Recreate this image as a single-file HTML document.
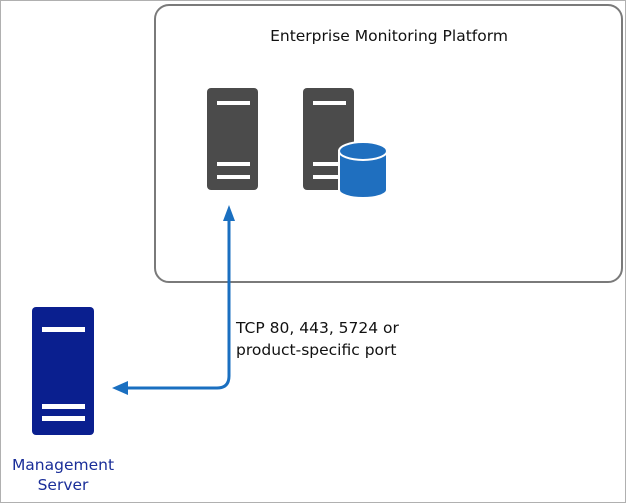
<!DOCTYPE html>
<html><head><style>
body{margin:0;background:#fff;}
svg{display:block;}
text{font-family:"Segoe UI","DejaVu Sans","Liberation Sans",sans-serif;font-size:15.5px;}
</style></head><body>
<svg width="626" height="503" viewBox="0 0 626 503">
<rect x="0.5" y="0.5" width="625" height="502" fill="#fff" stroke="#b0b0b0" stroke-width="1"/>
<rect x="155" y="5" width="467" height="277" rx="14" fill="#fff" stroke="#7a7a7a" stroke-width="2"/>
<text x="389" y="41" text-anchor="middle" fill="#111">Enterprise Monitoring Platform</text>
<rect x="207" y="88" width="51" height="102" rx="4" fill="#4b4b4b"/>
<rect x="217" y="101" width="33" height="4" fill="#fff"/>
<rect x="217" y="162" width="33" height="4" fill="#fff"/>
<rect x="217" y="175" width="33" height="4" fill="#fff"/>
<rect x="303" y="88" width="51" height="102" rx="4" fill="#4b4b4b"/>
<rect x="313" y="101" width="33" height="4" fill="#fff"/>
<rect x="313" y="162" width="33" height="4" fill="#fff"/>
<rect x="313" y="175" width="33" height="4" fill="#fff"/>
<path d="M339 151 L339 190 A24 8 0 0 0 387 190 L387 151 Z" fill="#1f6fbf" stroke="#fff" stroke-width="2"/>
<ellipse cx="363" cy="151" rx="24" ry="9" fill="#1f6fbf" stroke="#fff" stroke-width="2"/>
<rect x="32" y="307" width="62" height="128" rx="4" fill="#0a1f8f"/>
<rect x="42" y="327" width="43" height="5" fill="#fff"/>
<rect x="42" y="404" width="43" height="5" fill="#fff"/>
<rect x="42" y="416" width="43" height="5" fill="#fff"/>
<text x="63" y="470" text-anchor="middle" fill="#1a2e99">Management</text>
<text x="63" y="490" text-anchor="middle" fill="#1a2e99">Server</text>
<path d="M229 218 L229 376 Q229 388 217 388 L124 388" fill="none" stroke="#1a6fc0" stroke-width="3"/>
<polygon points="229,205 223,221 235,221" fill="#1a6fc0"/>
<polygon points="112,388 128,381 128,395" fill="#1a6fc0"/>
<text x="236" y="333" fill="#111">TCP 80, 443, 5724 or</text>
<text x="236" y="355" fill="#111">product-specific port</text>
</svg>
</body></html>
